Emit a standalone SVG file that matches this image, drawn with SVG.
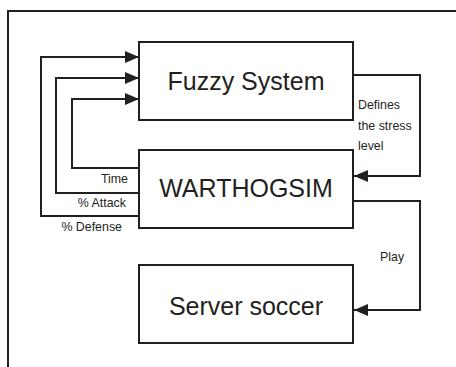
<svg xmlns="http://www.w3.org/2000/svg" width="456" height="367" viewBox="0 0 456 367">
<style>
.box{fill:#fff;stroke:#231f20;stroke-width:2}
.ln{fill:none;stroke:#231f20;stroke-width:2}
.big{font-family:"Liberation Sans",Arial,sans-serif;font-size:25px;fill:#231f20;text-anchor:middle}
.sm{font-family:"Liberation Sans",Arial,sans-serif;font-size:12.4px;fill:#231f20}
</style>
<defs>
<marker id="ah" markerWidth="14" markerHeight="12" refX="14" refY="6" orient="auto" markerUnits="userSpaceOnUse">
<path d="M0,0 L14,6 L0,12 Z" fill="#231f20"/>
</marker>
</defs>
<rect width="456" height="367" fill="#fff"/>
<path class="ln" d="M8,367 V11 H456"/>
<g id="fuzzy">
<rect class="box" x="139" y="42" width="214" height="78"/>
<text class="big" x="246" y="90">Fuzzy System</text>
</g>
<g id="warthogsim">
<rect class="box" x="139" y="150" width="214" height="78"/>
<text class="big" x="246" y="197">WARTHOGSIM</text>
</g>
<g id="server">
<rect class="box" x="139" y="265" width="214" height="78"/>
<text class="big" x="246" y="315">Server soccer</text>
</g>
<g id="connectors">
<path class="ln" d="M353,75 H420 V176 H354" marker-end="url(#ah)"/>
<path class="ln" d="M353,201 H420 V310 H354" marker-end="url(#ah)"/>
<path class="ln" d="M139,216 H41 V57 H139" marker-end="url(#ah)"/>
<path class="ln" d="M139,193 H56 V78 H139" marker-end="url(#ah)"/>
<path class="ln" d="M139,168 H72 V99 H139" marker-end="url(#ah)"/>
<text class="sm" x="358" y="109">Defines</text>
<text class="sm" x="358" y="130">the stress</text>
<text class="sm" x="358" y="150">level</text>
<text class="sm" x="380" y="261">Play</text>
<text class="sm" x="128" y="183" text-anchor="end">Time</text>
<text class="sm" x="126" y="207" text-anchor="end">% Attack</text>
<text class="sm" x="122" y="231" text-anchor="end">% Defense</text>
</g>
</svg>
